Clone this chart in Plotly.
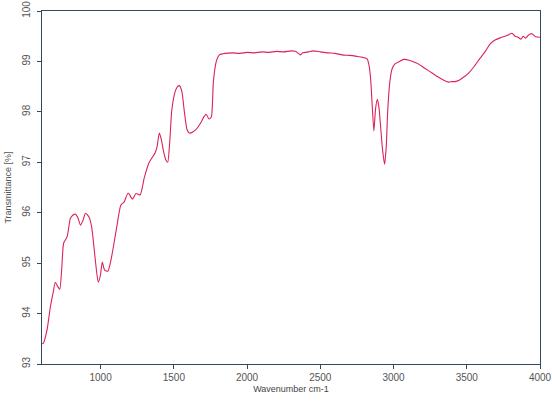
import plotly.graph_objects as go

wavenumber = [600, 609, 634, 657, 675, 691, 705, 721, 735, 748, 771, 794, 810, 829, 845, 863, 880, 897,
              920, 939, 959, 972, 984, 998, 1012, 1028, 1050, 1070, 1092, 1115, 1138, 1160, 1188, 1218,
              1241, 1270, 1298, 1332, 1371, 1385, 1401, 1415, 1428, 1445, 1458, 1472, 1486, 1509, 1525,
              1538, 1555, 1570, 1590, 1605, 1630, 1660, 1687, 1705, 1721, 1740, 1756, 1770, 1790, 1811,
              1850, 1900, 1950, 2000, 2050, 2100, 2150, 2200, 2250, 2300, 2330, 2350, 2365, 2380, 2420,
              2450, 2500, 2550, 2600, 2650, 2700, 2750, 2790, 2820, 2834, 2845, 2855, 2866, 2877, 2889,
              2900, 2912, 2925, 2939, 2950, 2960, 2975, 2990, 3010, 3040, 3070, 3101, 3130, 3170, 3210,
              3259, 3300, 3340, 3375, 3400, 3420, 3444, 3470, 3513, 3550, 3590, 3627, 3660, 3696, 3730,
              3760, 3780, 3809, 3830, 3850, 3870, 3885, 3902, 3920, 3945, 3970, 4000]
transmittance = [93.40, 93.41, 93.67, 94.13, 94.40, 94.62, 94.55, 94.48, 94.90, 95.40, 95.52, 95.89, 95.95,
                 95.97, 95.90, 95.75, 95.85, 95.99, 95.92, 95.72, 95.20, 94.85, 94.62, 94.75, 95.02, 94.86,
                 94.84, 95.05, 95.40, 95.80, 96.15, 96.21, 96.39, 96.27, 96.38, 96.35, 96.69, 97.00, 97.18,
                 97.30, 97.58, 97.45, 97.24, 97.05, 97.00, 97.40, 98.03, 98.40, 98.50, 98.52, 98.40, 98.05,
                 97.65, 97.58, 97.60, 97.68, 97.80, 97.90, 97.95, 97.86, 97.90, 98.60, 99.00, 99.13,
                 99.16, 99.17, 99.16, 99.18, 99.17, 99.19, 99.18, 99.20, 99.19, 99.21, 99.20, 99.16, 99.13,
                 99.17, 99.19, 99.21, 99.19, 99.17, 99.16, 99.13, 99.12, 99.10, 99.08, 99.05, 98.90, 98.60,
                 98.10, 97.62, 98.05, 98.25, 98.10, 97.70, 97.25, 96.96, 97.30, 98.00, 98.60, 98.85, 98.95,
                 99.00, 99.04, 99.03, 99.00, 98.95, 98.87, 98.78, 98.70, 98.63, 98.59, 98.60, 98.60, 98.62,
                 98.67, 98.77, 98.90, 99.06, 99.20, 99.35, 99.43, 99.47, 99.50, 99.52, 99.56, 99.50, 99.48,
                 99.44, 99.50, 99.46, 99.52, 99.55, 99.49, 99.48]

x_ticks = [1000, 1500, 2000, 2500, 3000, 3500, 4000]
y_ticks = [93, 94, 95, 96, 97, 98, 99, 100]

fig = go.Figure()
fig.add_trace(go.Scatter(x=wavenumber, y=transmittance, mode="lines",
                         line=dict(color="#dc2356", width=1.1, shape="spline", smoothing=0.6),
                         showlegend=False))

fig.update_layout(
    width=552, height=405,
    margin=dict(l=42, r=12, t=11, b=41),
    paper_bgcolor="white", plot_bgcolor="white",
    font=dict(family="Liberation Sans, Arial, sans-serif", size=10, color="#555555"),
    xaxis=dict(range=[600, 4000], tickvals=x_ticks, ticks="outside", ticklen=4, tickcolor="#34495e",
               showline=True, linecolor="#34495e", linewidth=1, mirror=True, showgrid=False,
               zeroline=False, automargin=False, tickfont=dict(size=10),
               title=dict(text="Wavenumber cm-1", standoff=3, font=dict(size=9, color="#444444"))),
    yaxis=dict(range=[93, 100], tickvals=y_ticks, ticks="outside", ticklen=4, tickcolor="#34495e",
               tickangle=-90, showline=True, linecolor="#34495e", linewidth=1, mirror=True,
               showgrid=False, zeroline=False, automargin=False, tickfont=dict(size=10),
               ticklabelstandoff=3,
               title=dict(text="Transmittance [%]", standoff=7, font=dict(size=9, color="#555555"))),
)

fig.write_html("out.html", config={"displayModeBar": False},
               post_script="document.body.style.margin='0';document.body.style.overflow='hidden';")
